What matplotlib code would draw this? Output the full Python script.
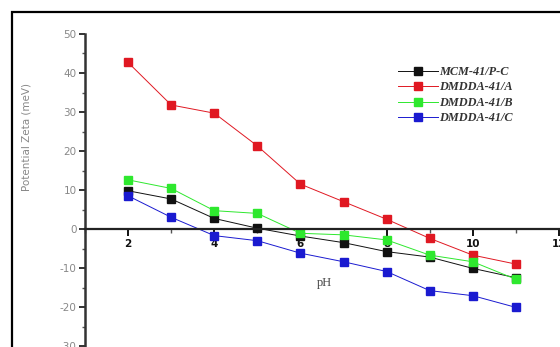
import matplotlib
matplotlib.use("Agg")
import matplotlib.pyplot as plt
from matplotlib.ticker import MultipleLocator, FixedLocator, FixedFormatter
from matplotlib.patches import Rectangle

# Zeta potential vs pH for the four materials
ph = [2, 3, 4, 5, 6, 7, 8, 9, 10, 11]
mcm_pc = [9.8, 7.7, 2.7, 0.2, -1.8, -3.5, -5.8, -7.2, -10.1, -12.5]
dmdda_a = [42.7, 31.8, 29.7, 21.3, 11.5, 7.0, 2.5, -2.4, -6.7, -9.0]
dmdda_b = [12.6, 10.4, 4.7, 4.0, -1.1, -1.5, -2.8, -6.7, -8.4, -12.9]
dmdda_c = [8.5, 3.0, -1.7, -3.0, -6.2, -8.4, -10.9, -15.8, -17.1, -20.1]

series_labels = ["MCM-41/P-C", "DMDDA-41/A", "DMDDA-41/B", "DMDDA-41/C"]
series_colors = ["#111111", "#e01822", "#2ee82e", "#1a1ad0"]

x_ticks = [2, 4, 6, 8, 10, 12]
y_ticks = [-30, -20, -10, 0, 10, 20, 30, 40, 50]

W, H = 560, 347
fig = plt.figure(figsize=(W / 100, H / 100), dpi=100)
fig.patch.set_facecolor("white")

# outer frame around the figure
fig.patches.append(Rectangle((12 / W, -0.5), 2.0, 1 - 12 / H + 0.5,
                             transform=fig.transFigure, fill=False,
                             edgecolor="black", lw=1.6))

ax = fig.add_axes([85 / W, 1 / H, (559 - 85) / W, 312 / H])
ax.set_xlim(1, 12)
ax.set_ylim(-30, 50)

for ys, lab, col in zip([mcm_pc, dmdda_a, dmdda_b, dmdda_c], series_labels, series_colors):
    ax.plot(ph, ys, "-s", color=col, lw=0.7, ms=6.2, mec=col, mfc=col, label=lab)

# axes styling: y spine on the left, x spine through zero
for s in ("top", "right"):
    ax.spines[s].set_visible(False)
ax.spines["bottom"].set_position(("data", 0))
ax.spines["bottom"].set_linewidth(1.6)
ax.spines["bottom"].set_color("#222222")
ax.spines["left"].set_linewidth(1.8)
ax.spines["left"].set_color("#333333")

ax.xaxis.set_major_locator(FixedLocator(x_ticks))
ax.xaxis.set_major_formatter(FixedFormatter([str(t) for t in x_ticks]))
ax.xaxis.set_minor_locator(MultipleLocator(1))
ax.yaxis.set_major_locator(FixedLocator(y_ticks))
ax.yaxis.set_major_formatter(FixedFormatter([str(t) for t in y_ticks]))
ax.yaxis.set_minor_locator(MultipleLocator(5))

ax.tick_params(axis="x", which="major", direction="out", length=5, width=1.4,
               pad=2, labelsize=7.5, colors="#111111")
ax.tick_params(axis="x", which="minor", direction="out", length=3, width=1.0,
               color="#555555")
ax.tick_params(axis="y", which="major", direction="out", length=4, width=1.4,
               pad=2, labelsize=7.5, labelcolor="#888888", color="#333333")
ax.tick_params(axis="y", which="minor", direction="out", length=2, width=1.0,
               color="#555555")
for t in ax.get_xticklabels():
    t.set_fontweight("bold")

ax.set_xlabel("pH", family="Liberation Serif", fontsize=9, color="#444444")
ax.xaxis.set_label_coords(0.506, 0.221)
ax.set_ylabel("Potential Zeta (meV)", fontsize=7.5, color="#888888")
ax.yaxis.set_label_coords(-0.112, 0.67)

leg = fig.legend(loc="upper left", bbox_to_anchor=(398 / W, 1 - 66 / H),
                 frameon=False, borderpad=0, borderaxespad=0,
                 handlelength=3.3, handletextpad=0.1, labelspacing=0.28,
                 prop={"family": "Liberation Serif", "style": "italic",
                       "weight": "bold", "size": 8.8})
for t in leg.get_texts():
    t.set_color("#333333")
for h in leg.legend_handles:
    h.set_markersize(5.5)

fig.savefig("out.png", dpi=100, facecolor="white")
